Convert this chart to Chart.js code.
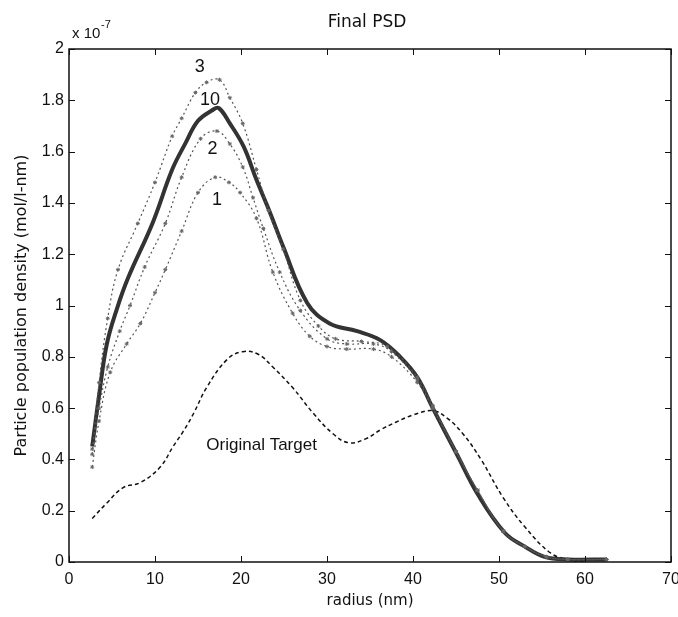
<!DOCTYPE html>
<html>
<head>
<meta charset="utf-8">
<script src="https://cdn.jsdelivr.net/npm/chart.js@4.4.0/dist/chart.umd.min.js"></script>
<style>
html, body { margin: 0; padding: 0; background: #fff; }
</style>
</head>
<body>
<canvas id="psd" width="678" height="617"></canvas>
<script>
// radius (nm) and density values, in units of 1e-7 mol/l-nm (as on the axis)
const radiusTarget = [2.7, 4.4, 6.3, 8.3, 10.6, 12.1, 13.3, 14.5, 16, 18.4, 20.2, 22, 23.7, 26, 28.4, 30.7, 32.5, 34.5, 36.2, 38, 40, 42.3, 44, 45.8, 47.9, 50.5, 53, 56, 58, 60];
const densityTarget = [0.17, 0.23, 0.29, 0.31, 0.37, 0.45, 0.51, 0.58, 0.68, 0.79, 0.82, 0.81, 0.76, 0.68, 0.58, 0.50, 0.465, 0.48, 0.515, 0.545, 0.573, 0.59, 0.56, 0.50, 0.40, 0.25, 0.137, 0.035, 0.01, 0.0];

const radius10 = [2.7, 3.5, 4.4, 5.6, 6.9, 9.7, 12, 13.5, 15, 16.6, 17.4, 18.7, 20.3, 21.8, 23.4, 24.9, 27.7, 30.3, 33.5, 36.2, 38.5, 40.5, 42.3, 45.1, 47.6, 50.7, 53, 55.3, 58, 62.5];
const density10 = [0.45, 0.65, 0.85, 0.99, 1.11, 1.32, 1.53, 1.63, 1.72, 1.76, 1.77, 1.71, 1.62, 1.49, 1.36, 1.23, 1.01, 0.93, 0.90, 0.865, 0.80, 0.72, 0.60, 0.42, 0.26, 0.113, 0.06, 0.02, 0.01, 0.01];

const radius3 = [2.7, 3.5, 4.5, 5.7, 8, 10, 12, 13.1, 14.7, 16, 17.5, 18.7, 20.2, 21.8, 23.2, 24.9, 26.9, 29, 31, 34, 37, 40.5, 42.3, 45, 47.5, 50.5, 53, 55.5, 58, 62.5];
const density3 = [0.42, 0.7, 0.95, 1.14, 1.32, 1.48, 1.66, 1.73, 1.83, 1.87, 1.88, 1.81, 1.71, 1.53, 1.37, 1.22, 1.02, 0.92, 0.87, 0.86, 0.84, 0.72, 0.61, 0.43, 0.28, 0.12, 0.06, 0.02, 0.01, 0.01];

const radius2 = [2.7, 3.5, 4.5, 5.9, 7.1, 8.8, 11.2, 13.1, 15.3, 17.2, 18.7, 20.2, 21.4, 22.6, 24.5, 26.9, 30, 32.3, 35.4, 37.5, 40.5, 42.3, 45, 47.5, 50.5, 53, 55.5, 58, 62.5];
const density2 = [0.44, 0.6, 0.76, 0.90, 1.0, 1.15, 1.32, 1.50, 1.65, 1.68, 1.63, 1.54, 1.42, 1.30, 1.13, 0.98, 0.87, 0.85, 0.85, 0.82, 0.71, 0.60, 0.43, 0.28, 0.12, 0.06, 0.02, 0.01, 0.01];

const radius1 = [2.7, 3.5, 4.8, 6.7, 8.3, 10, 11.2, 13.1, 15, 17, 18.6, 19.9, 21.8, 23.7, 26, 28, 30, 32.3, 35.4, 37.5, 40.5, 42.3, 45, 47.5, 50.5, 53, 55.5, 58, 62.5];
const density1 = [0.37, 0.55, 0.74, 0.85, 0.93, 1.05, 1.14, 1.29, 1.44, 1.50, 1.48, 1.44, 1.34, 1.13, 0.97, 0.88, 0.84, 0.83, 0.83, 0.80, 0.70, 0.60, 0.43, 0.28, 0.12, 0.06, 0.02, 0.01, 0.01];

const xTicks = [0, 10, 20, 30, 40, 50, 60, 70];
const yTicks = [0, 0.2, 0.4, 0.6, 0.8, 1, 1.2, 1.4, 1.6, 1.8, 2];

// curve labels placed in data coordinates
const curveLabels = [
    { text: '3', x: 15.2, y: 1.93, size: 18 },
    { text: '10', x: 16.4, y: 1.80, size: 18 },
    { text: '2', x: 16.7, y: 1.61, size: 18 },
    { text: '1', x: 17.2, y: 1.41, size: 18 },
    { text: 'Original Target', x: 22.4, y: 0.455, size: 17 }
];

const FONT = '"Liberation Sans", Arial, sans-serif';
const WIDE = '"DejaVu Sans", "Liberation Sans", sans-serif';

const toPoints = (xs, ys) => xs.map((x, i) => ({ x: x, y: ys[i] }));

// MATLAB style box with inward ticks, plus the curve labels and exponent
const matlabBox = {
    id: 'matlabBox',
    afterDraw(chart) {
        const { ctx, chartArea: a, scales: { x, y } } = chart;
        ctx.save();
        ctx.strokeStyle = '#111';
        ctx.lineWidth = 1.5;
        ctx.strokeRect(a.left, a.top, a.right - a.left, a.bottom - a.top);
        ctx.lineWidth = 1;
        ctx.beginPath();
        xTicks.forEach(v => {
            const px = Math.round(x.getPixelForValue(v)) + 0.5;
            ctx.moveTo(px, a.bottom); ctx.lineTo(px, a.bottom - 6);
            ctx.moveTo(px, a.top); ctx.lineTo(px, a.top + 6);
        });
        yTicks.forEach(v => {
            const py = Math.round(y.getPixelForValue(v)) + 0.5;
            ctx.moveTo(a.left, py); ctx.lineTo(a.left + 6, py);
            ctx.moveTo(a.right, py); ctx.lineTo(a.right - 6, py);
        });
        ctx.stroke();

        ctx.fillStyle = '#111';
        ctx.textAlign = 'center';
        ctx.textBaseline = 'middle';
        curveLabels.forEach(l => {
            ctx.font = l.size + 'px ' + FONT;
            ctx.fillText(l.text, x.getPixelForValue(l.x), y.getPixelForValue(l.y));
        });

        // exponent above the y axis
        ctx.textAlign = 'left';
        ctx.textBaseline = 'alphabetic';
        ctx.font = '15px ' + FONT;
        ctx.fillText('x 10', a.left + 3, a.top - 11);
        ctx.font = '11px ' + FONT;
        ctx.fillText('-7', a.left + 32, a.top - 21);

        // title
        ctx.textAlign = 'center';
        ctx.textBaseline = 'middle';
        ctx.font = '17px ' + WIDE;
        ctx.fillText('Final PSD', (a.left + a.right) / 2 - 3, 23);
        ctx.restore();
    }
};

const dotted = (label, pts) => ({
    label: label,
    data: pts,
    borderColor: '#555',
    borderWidth: 1.2,
    borderDash: [2, 3],
    pointRadius: 2,
    pointStyle: 'star',
    pointBorderColor: '#666',
    pointBorderWidth: 1,
    tension: 0.4
});

new Chart(document.getElementById('psd').getContext('2d'), {
    type: 'scatter',
    data: {
        datasets: [
            dotted('1', toPoints(radius1, density1)),
            dotted('2', toPoints(radius2, density2)),
            dotted('3', toPoints(radius3, density3)),
            {
                label: '10',
                data: toPoints(radius10, density10),
                borderColor: '#333',
                borderWidth: 4,
                pointRadius: 0,
                tension: 0.4
            },
            {
                label: 'Original Target',
                data: toPoints(radiusTarget, densityTarget),
                borderColor: '#111',
                borderWidth: 1.5,
                borderDash: [4, 3],
                pointRadius: 0,
                tension: 0.4
            }
        ].map(d => Object.assign({ showLine: true }, d))
    },
    options: {
        responsive: false,
        animation: false,
        layout: { padding: { top: 49, right: 7, left: 0, bottom: 0 } },
        plugins: {
            legend: { display: false },
            tooltip: { enabled: false }
        },
        scales: {
            x: {
                type: 'linear',
                min: 0,
                max: 70,
                afterBuildTicks: s => { s.ticks = xTicks.map(v => ({ value: v })); },
                grid: { display: false, drawTicks: false },
                border: { display: false },
                ticks: { color: '#111', padding: 8, font: { size: 16, family: FONT } },
                title: { display: true, text: 'radius (nm)', color: '#111', padding: { top: 2, bottom: 7 }, font: { size: 15, family: WIDE } },
                afterFit: s => { s.height = 55; s.paddingLeft = 0; s.paddingRight = 0; }
            },
            y: {
                type: 'linear',
                min: 0,
                max: 2,
                afterBuildTicks: s => { s.ticks = yTicks.map(v => ({ value: v })); },
                grid: { display: false, drawTicks: false },
                border: { display: false },
                ticks: {
                    color: '#111',
                    padding: 5,
                    font: { size: 16, family: FONT },
                    callback: v => String(Number(v.toFixed(1)))
                },
                title: { display: true, text: 'Particle population density (mol/l-nm)', color: '#111', padding: { top: 12, bottom: 4 }, font: { size: 16, family: WIDE } },
                afterFit: s => { s.width = 69; s.paddingTop = 0; s.paddingBottom = 0; }
            }
        }
    },
    plugins: [matlabBox]
});
</script>
</body>
</html>
